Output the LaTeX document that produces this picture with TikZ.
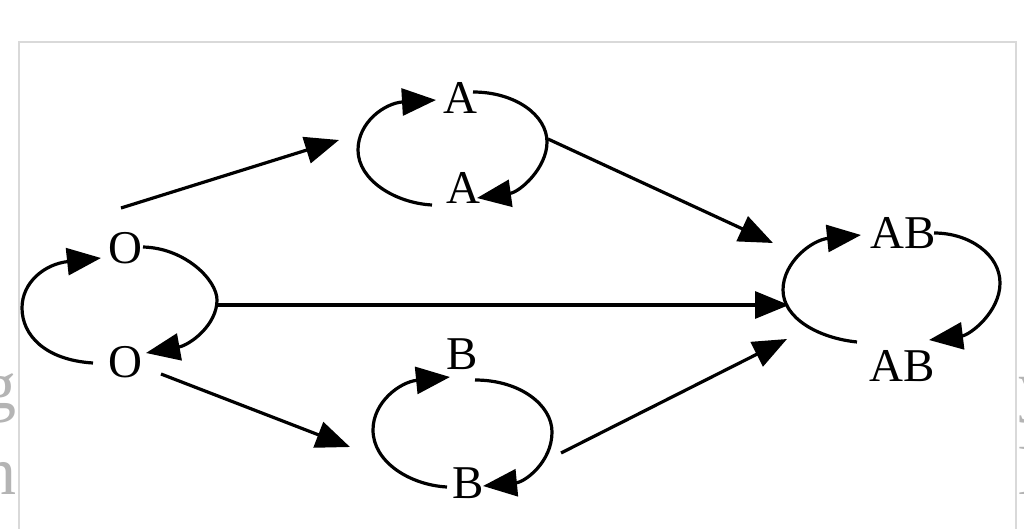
\documentclass[tikz,border=0pt]{standalone}
\usepackage{fontspec}
\setmainfont{Liberation Serif}
\usetikzlibrary{arrows.meta}
\definecolor{framegray}{HTML}{D9D9D9}
\definecolor{ghost}{HTML}{B4B4B4}
\tikzset{
  lbl/.style={inner sep=0pt, font=\fontsize{47}{56}\selectfont},
  ghosttxt/.style={inner sep=0pt, text=ghost, font=\fontsize{68}{80}\selectfont},
  conn/.style={line width=3.2pt, -{Triangle[length=34pt,width=27pt]}},
  loopl/.style={line width=3.2pt, -{Triangle[length=34pt,width=27pt]}},
}
\begin{document}
\begin{tikzpicture}[x=1pt,y=-1pt]
\useasboundingbox (0,0) rectangle (1024,529);
\clip (0,0) rectangle (1024,529);
\fill[white] (0,0) rectangle (1024,529);
% frame
\draw[framegray, line width=2pt] (19,560) -- (19,42) -- (1016,42) -- (1016,560);
% ghost text outside frame
\node[ghosttxt, anchor=base east] (g1) at (17,408) {g};
\node[ghosttxt, anchor=base east] (g2) at (17,494) {n};
\node[ghosttxt, anchor=base west] (g3) at (1018,408) {y};
\node[ghosttxt, anchor=base west] (g4) at (1018,494) {l};

% labels
\node[lbl] (O1) at (125,248) {O};
\node[lbl] (O2) at (125,362) {O};
\node[lbl] (A1) at (460,98) {A};
\node[lbl] (A2) at (463,188) {A};
\node[lbl] (B1) at (462,354) {B};
\node[lbl] (B2) at (468,483) {B};
\node[lbl] (AB1) at (903,233) {AB};
\node[lbl] (AB2) at (902,366) {AB};

% loop end points
\coordinate (oLs) at (93,363);
\coordinate (oLe) at (101,258);
\coordinate (oRs) at (143,247);
\coordinate (oRe) at (146,353);
\coordinate (aLs) at (432,205);
\coordinate (aLe) at (436,100);
\coordinate (aRs) at (473,92);
\coordinate (aRe) at (477,198);
\coordinate (bLs) at (447,487);
\coordinate (bLe) at (450,377);
\coordinate (bRs) at (475,380);
\coordinate (bRe) at (483,486);
\coordinate (abLs) at (857,342);
\coordinate (abLe) at (861,235);
\coordinate (abRs) at (934,233);
\coordinate (abRe) at (929,340);

% O loops
\draw[loopl] (oLs) .. controls (45,360) and (22,335) .. (22,308) .. controls (22,282) and (45,264) .. (oLe);
\draw[loopl] (oRs) .. controls (185,248) and (217,280) .. (217,300) .. controls (217,325) and (190,345) .. (oRe);
% A loops
\draw[loopl] (aLs) .. controls (395,203) and (358,180) .. (358,150) .. controls (358,122) and (385,103) .. (aLe);
\draw[loopl] (aRs) .. controls (515,92) and (547,115) .. (547,142) .. controls (547,168) and (520,192) .. (aRe);
% B loops
\draw[loopl] (bLs) .. controls (410,485) and (373,462) .. (373,430) .. controls (373,402) and (400,382) .. (bLe);
\draw[loopl] (bRs) .. controls (520,380) and (552,405) .. (552,432) .. controls (552,462) and (525,482) .. (bRe);
% AB loops
\draw[loopl] (abLs) .. controls (818,338) and (783,318) .. (783,290) .. controls (783,262) and (812,240) .. (abLe);
\draw[loopl] (abRs) .. controls (970,233) and (1000,255) .. (1000,283) .. controls (1000,312) and (970,335) .. (abRe);

% transitions
\coordinate (e1s) at (121,208);
\coordinate (e1t) at (339,140);
\coordinate (e2s) at (217,305);
\coordinate (e2t) at (789,305);
\coordinate (e3s) at (161,374);
\coordinate (e3t) at (350,447);
\coordinate (e4s) at (548,139);
\coordinate (e4t) at (773,243);
\coordinate (e5s) at (561,453);
\coordinate (e5t) at (787,339);
\draw[conn] (e1s) -- (e1t);
\draw[conn] (e2s) -- (e2t);
\draw[conn] (e3s) -- (e3t);
\draw[conn] (e4s) -- (e4t);
\draw[conn] (e5s) -- (e5t);
\end{tikzpicture}
\end{document}
